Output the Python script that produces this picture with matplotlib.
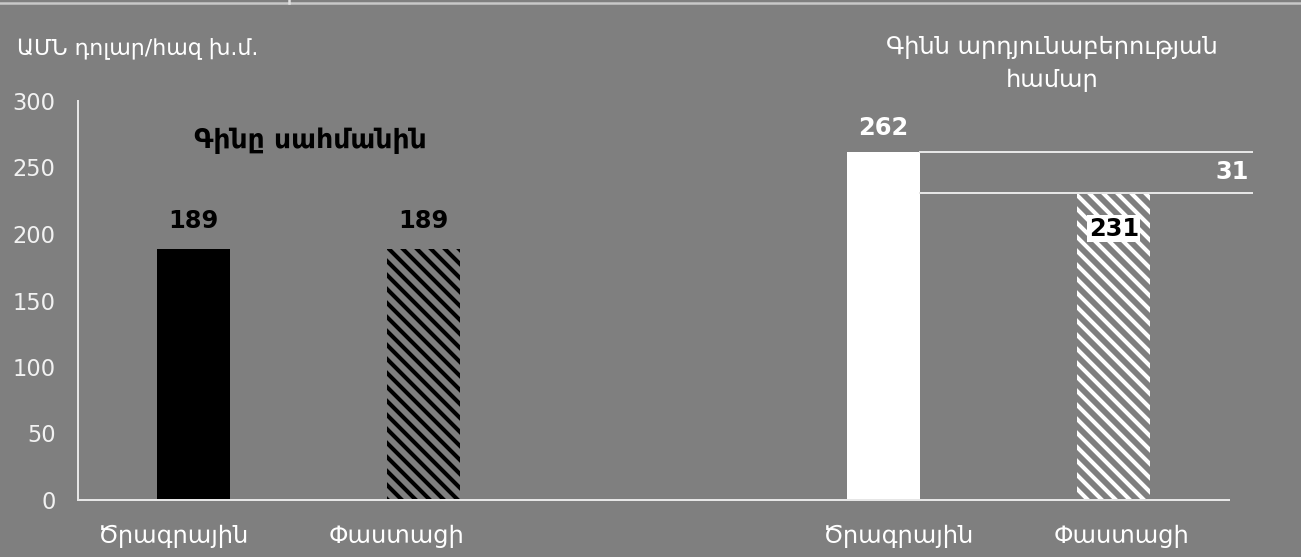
import matplotlib
matplotlib.use("Agg")
import matplotlib.pyplot as plt
from matplotlib.lines import Line2D

# --- data ---------------------------------------------------------------
categories = ["Ծրագրային", "Փաստացի", "Ծրագրային", "Փաստացի"]
positions = [0, 1, 3, 4]
values = [189, 189, 262, 231]
value_labels = ["189", "189", "262", "231"]
difference = 262 - 231
y_ticks = [0, 50, 100, 150, 200, 250, 300]
y_unit = "ԱՄՆ դոլար/հազ խ.մ."
group_titles = ["Գինը սահմանին", "Գինն արդյունաբերության\nհամար"]

# --- style --------------------------------------------------------------
BG = "#7f7f7f"
LIGHT = "#e6e6e6"
DPI = 84            # hatch tile follows the dpi, this gives ~14 px stripe period
S = 120 / DPI       # sizes below are written for 120 dpi
plt.rcParams["font.family"] = ["DejaVu Sans"]
plt.rcParams["hatch.linewidth"] = 3.5

fig = plt.figure(figsize=(1301 / DPI, 557 / DPI), dpi=DPI, facecolor=BG)
ax = fig.add_axes([78 / 1301, 57 / 557, (1229 - 78) / 1301, 399 / 557])
ax.set_facecolor(BG)

bar_w = 0.317
styles = [
    dict(color="black"),
    dict(facecolor="none", edgecolor="black", hatch="\\\\", linewidth=0),
    dict(color="white"),
    dict(facecolor="none", edgecolor="white", hatch="\\\\", linewidth=0),
]
for x, v, st in zip(positions, values, styles):
    ax.bar(x, v, width=bar_w, **st)

ax.set_xlim(-0.5, 4.5)
ax.set_ylim(0, 300)
ax.set_yticks(y_ticks)
ax.set_xticks([])
ax.tick_params(axis="y", length=0, pad=13.5 * S, labelsize=13.5 * S, labelcolor="#f2f2f2")
for s in ("top", "right"):
    ax.spines[s].set_visible(False)
for s in ("left", "bottom"):
    ax.spines[s].set_color(LIGHT)
    ax.spines[s].set_linewidth(1.2 * S)

# value labels
ax.text(positions[0], values[0] + 12, value_labels[0], ha="center", va="bottom",
        fontsize=14.5 * S, fontweight="bold", color="black")
ax.text(positions[1], values[1] + 12, value_labels[1], ha="center", va="bottom",
        fontsize=14.5 * S, fontweight="bold", color="black")
ax.text(positions[2], values[2] + 9, value_labels[2], ha="center", va="bottom",
        fontsize=14.5 * S, fontweight="bold", color="white")
ax.text(positions[3], values[3] - 27, value_labels[3], ha="center", va="center",
        fontsize=14.5 * S, fontweight="bold", color="black",
        bbox=dict(boxstyle="square,pad=0.06", facecolor="white", edgecolor="none"))

# difference bracket between planned and actual industrial price
x0 = positions[2] + bar_w / 2
x1 = 4.6
for v in (values[2], values[3]):
    ax.add_line(Line2D([x0, x1], [v, v], color=LIGHT, linewidth=1.2 * S, clip_on=False))
ax.text(x1 - 0.015, values[3] + difference / 2, str(difference), ha="right", va="center",
        fontsize=14.5 * S, fontweight="bold", color="white", clip_on=False)

# group titles
ax.text(0.51, 270, group_titles[0], ha="center", va="center", fontsize=16 * S,
        fontweight="bold", color="black")
ax.text(3.73, 328, group_titles[1], ha="center", va="center", fontsize=14.5 * S,
        color="white", linespacing=1.45, clip_on=False)

# category labels under the bars
label_shift = [-0.087, -0.118, 0.063, 0.031]
trans = ax.get_xaxis_transform()
for x, d, lab in zip(positions, label_shift, categories):
    ax.text(x + d, -0.09, lab, transform=trans, ha="center", va="center",
            fontsize=14.5 * S, color="white")

# unit caption
fig.text(17 / 1301, 1 - 48 / 557, y_unit, ha="left", va="center", fontsize=13.3 * S,
         color="white")

# frame line along the top edge
fig.add_artist(Line2D([0, 1], [1 - 2.5 / 557] * 2, transform=fig.transFigure,
                      color="#c8c8c8", linewidth=1.5 * S))
fig.add_artist(Line2D([289 / 1301] * 2, [1, 1 - 3 / 557], transform=fig.transFigure,
                      color="#e0e0e0", linewidth=1.5 * S))

fig.savefig("out.png", dpi=DPI, facecolor=BG)
